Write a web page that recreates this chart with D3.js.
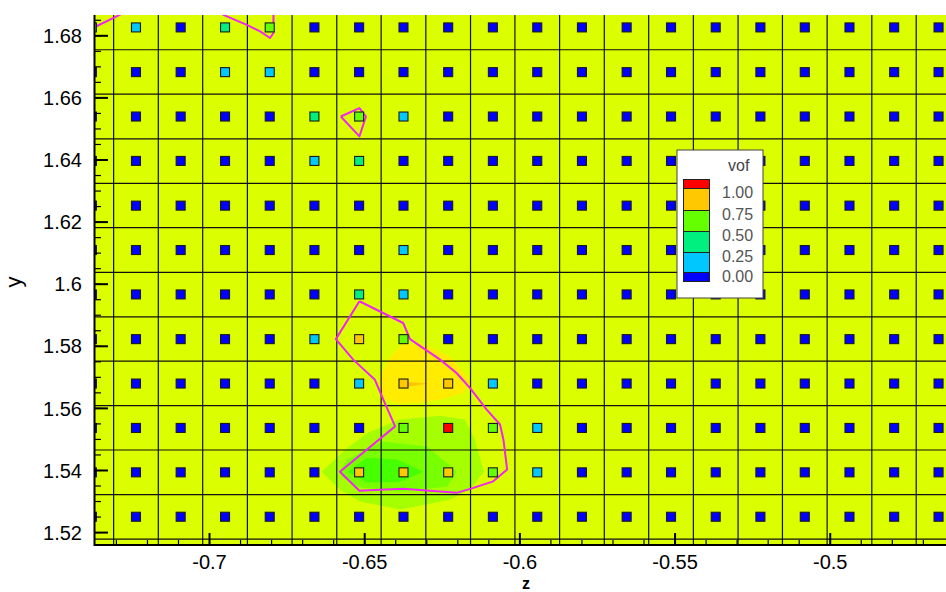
<html>
<head>
    <title>vof</title>
</head>
<script src='https://d3js.org/d3.v7.min.js'></script>
<style>
    body {margin:0; background:white;}
    text {font-family: 'Liberation Sans', Arial, sans-serif;}
</style>
<body>
<svg width=946 height=592></svg>

<script>
// cell centres, z across and y from top row down
var zCenters = [-0.7379, -0.7237, -0.7093, -0.6950, -0.6806, -0.6662, -0.6518, -0.6375, -0.6231, -0.6087,
                -0.5944, -0.5800, -0.5656, -0.5513, -0.5369, -0.5225, -0.5082, -0.4938, -0.4794, -0.4651];
var yCenters = [1.6827, 1.6683, 1.6540, 1.6397, 1.6253, 1.6110, 1.5967, 1.5823, 1.5680, 1.5537, 1.5394, 1.5251];
// mesh lines
var zEdges = [-0.7309, -0.7165, -0.7022, -0.6878, -0.6734, -0.6590, -0.6447, -0.6303, -0.6159, -0.6016,
              -0.5872, -0.5728, -0.5585, -0.5441, -0.5297, -0.5154, -0.5010, -0.4866, -0.4723];
var yEdges = [1.6755, 1.6612, 1.6468, 1.6325, 1.6182, 1.6038, 1.5895, 1.5752, 1.5609, 1.5466, 1.5322, 1.5179];

// vof per cell, rows top -> bottom
var vof = [
  [0.60, 0.15, 0, 0.35, 0.55, 0, 0, 0, 0, 0, 0, 0, 0, 0, 0, 0, 0, 0, 0, 0],
  [0, 0, 0, 0.20, 0.12, 0, 0, 0, 0, 0, 0, 0, 0, 0, 0, 0, 0, 0, 0, 0],
  [0, 0, 0, 0, 0, 0.30, 0.55, 0.10, 0, 0, 0, 0, 0, 0, 0, 0, 0, 0, 0, 0],
  [0, 0, 0, 0, 0, 0.15, 0.30, 0, 0, 0, 0, 0, 0, 0, 0, 0, 0, 0, 0, 0],
  [0, 0, 0, 0, 0, 0, 0, 0, 0, 0, 0, 0, 0, 0, 0, 0, 0, 0, 0, 0],
  [0, 0, 0, 0, 0, 0, 0, 0.10, 0, 0, 0, 0, 0, 0, 0, 0, 0, 0, 0, 0],
  [0, 0, 0, 0, 0, 0, 0.35, 0.20, 0, 0, 0, 0, 0, 0, 0, 0, 0, 0, 0, 0],
  [0, 0, 0, 0, 0, 0.05, 0.80, 0.60, 0, 0, 0, 0, 0, 0, 0, 0, 0, 0, 0, 0],
  [0, 0, 0, 0, 0, 0, 0.15, 0.90, 0.90, 0.20, 0, 0, 0, 0, 0, 0, 0, 0, 0, 0],
  [0, 0, 0, 0, 0, 0, 0, 0.70, 1.00, 0.55, 0.10, 0, 0, 0, 0, 0, 0, 0, 0, 0],
  [0, 0, 0, 0, 0, 0, 0.85, 0.95, 0.80, 0.60, 0.05, 0, 0, 0, 0, 0, 0, 0, 0, 0],
  [0, 0, 0, 0, 0, 0, 0, 0, 0, 0, 0, 0, 0, 0, 0, 0, 0, 0, 0, 0]
];

var levelLabels = ["1.00", "0.75", "0.50", "0.25", "0.00"];
var levelColors = ["#ff0000", "#ffc800", "#66ff00", "#00f080", "#00c8ff", "#0000ff"];

var xTicks = [-0.7, -0.65, -0.6, -0.55, -0.5];
var xTickLabels = ["-0.7", "-0.65", "-0.6", "-0.55", "-0.5"];
var yTicks = [1.52, 1.54, 1.56, 1.58, 1.6, 1.62, 1.64, 1.66, 1.68];
var yTickLabels = ["1.52", "1.54", "1.56", "1.58", "1.6", "1.62", "1.64", "1.66", "1.68"];

// flooded blobs [z, y]
var floodYellow = [[-0.6377,1.5808],[-0.6306,1.5805],[-0.6225,1.5766],[-0.6154,1.5683],[-0.6187,1.5647],[-0.6257,1.5628],
                   [-0.6322,1.5618],[-0.6393,1.5615],[-0.6444,1.5634],[-0.6457,1.5686],[-0.6425,1.5757]];
var floodOrange = [[-0.6370,1.5686],[-0.6296,1.5680],[-0.6360,1.5670]];
var floodGreen1 = [[-0.6638,1.5396],[-0.6563,1.5467],[-0.6489,1.5522],[-0.6386,1.5564],[-0.6257,1.5576],[-0.6177,1.5564],
                   [-0.6145,1.5499],[-0.6116,1.5396],[-0.6161,1.5338],[-0.6225,1.5306],[-0.6386,1.5274],[-0.6515,1.5300],[-0.6580,1.5338]];
var floodGreen2 = [[-0.6580,1.5396],[-0.6557,1.5435],[-0.6441,1.5493],[-0.6299,1.5477],[-0.6203,1.5396],[-0.6235,1.5348],
                   [-0.6386,1.5332],[-0.6515,1.5345],[-0.6570,1.5377]];
var floodGreen3 = [[-0.6554,1.5396],[-0.6493,1.5441],[-0.6396,1.5435],[-0.6312,1.5396],[-0.6386,1.5364],[-0.6493,1.5361]];

// vof = 0.5 iso lines
var contourBig = [[-0.6517,1.5945],[-0.6376,1.5875],[-0.6354,1.5823],[-0.6257,1.5757],[-0.6204,1.5714],[-0.6161,1.5666],
                  [-0.6107,1.5596],[-0.6064,1.5548],[-0.6053,1.5499],[-0.6041,1.5403],[-0.6086,1.5365],[-0.6150,1.5344],
                  [-0.6204,1.5328],[-0.6376,1.5341],[-0.6451,1.5338],[-0.6517,1.5335],[-0.6580,1.5396],[-0.6402,1.5542],
                  [-0.6440,1.5628],[-0.6467,1.5692],[-0.6537,1.5757],[-0.6593,1.5823],[-0.6517,1.5945]];
var contourSmall = [[-0.6577,1.6540],[-0.6517,1.6567],[-0.6496,1.6540],[-0.6517,1.6476],[-0.6577,1.6540]];
var contourTopLeft = [[-0.7385,1.6820],[-0.7366,1.6830],[-0.7288,1.6868],[-0.7272,1.6878]];
var contourTop = [[-0.6972,1.6900],[-0.6957,1.6868],[-0.6880,1.6835],[-0.6837,1.6814],[-0.6805,1.6793],[-0.6794,1.6809],[-0.6794,1.6900]];

var pLeft = 95, pRight = 946, pTop = 15, pBottom = 545;
var x = d3.scaleLinear().domain([-0.7369, -0.4627]).range([pLeft, pRight]);
var y = d3.scaleLinear().domain([1.5160, 1.6867]).range([pBottom, pTop]);
var color = d3.scaleThreshold().domain([0.000001, 0.25, 0.5, 0.75, 0.9999])
    .range(["#0000ff", "#00c8ff", "#00f080", "#66ff00", "#ffc800", "#ff0000"]);

var svg = d3.select('svg');
svg.append("clipPath").attr("id", "clip").append("rect")
    .attr("x", pLeft).attr("y", pTop).attr("width", pRight - pLeft).attr("height", pBottom - pTop);

var plot = svg.append("g").attr("clip-path", "url(#clip)");
plot.append("rect").attr("x", pLeft).attr("y", pTop).attr("width", pRight - pLeft).attr("height", pBottom - pTop)
    .style("fill", "#dcff00");

var poly = d3.line().x(function(d) {return x(d[0]);}).y(function(d) {return y(d[1]);});
plot.append("path").attr("d", poly(floodGreen1) + "Z").style("fill", "#a6ff00");
plot.append("path").attr("d", poly(floodGreen2) + "Z").style("fill", "#78ff00");
plot.append("path").attr("d", poly(floodGreen3) + "Z").style("fill", "#46ff00");
plot.append("path").attr("d", poly(floodYellow) + "Z").style("fill", "#ffec00");
plot.append("path").attr("d", poly(floodOrange) + "Z").style("fill", "#ffc400");

// mesh
plot.selectAll(".vline").data(zEdges).enter().append("line")
    .attr("x1", function(d) {return x(d);}).attr("x2", function(d) {return x(d);})
    .attr("y1", pTop).attr("y2", pBottom)
    .style("stroke", "#111").style("stroke-width", 1.2);
plot.selectAll(".hline").data(yEdges).enter().append("line")
    .attr("x1", pLeft).attr("x2", pRight)
    .attr("y1", function(d) {return y(d);}).attr("y2", function(d) {return y(d);})
    .style("stroke", "#111").style("stroke-width", 1.2);

// iso lines
[contourBig, contourSmall, contourTopLeft, contourTop].forEach(function(c) {
    plot.append("path").attr("d", poly(c))
        .style("fill", "none").style("stroke", "#f024f0").style("stroke-width", 2)
        .style("stroke-linejoin", "round");
});

// axes
var ax = svg.append("g");
ax.append("line").attr("x1", pLeft - 0.5).attr("x2", pLeft - 0.5).attr("y1", pTop).attr("y2", pBottom + 1)
    .style("stroke", "black").style("stroke-width", 2);
ax.append("line").attr("x1", pLeft - 1).attr("x2", pRight).attr("y1", pBottom).attr("y2", pBottom)
    .style("stroke", "black").style("stroke-width", 2);

// cell markers
var cells = [];
vof.forEach(function(row, r) {
    row.forEach(function(v, c) {
        cells.push({z: zCenters[c], y: yCenters[r], v: v});
    });
});
plot.selectAll(".cell").data(cells).enter().append("rect")
    .attr("x", function(d) {return x(d.z) - 4.5;})
    .attr("y", function(d) {return y(d.y) - 4.5;})
    .attr("width", 9).attr("height", 9)
    .style("fill", function(d) {return color(d.v);})
    .style("stroke", "#1a1a1a").style("stroke-width", 1.1);
plot.raise();
ax.raise();

var yMinor = d3.range(1.52, 1.6867, 0.005).map(function(d) {return +d.toFixed(3);});
var xMinor = d3.range(-0.73, -0.4627, 0.01).map(function(d) {return +d.toFixed(2);});

ax.selectAll(".ymin").data(yMinor).enter().append("line")
    .attr("x1", pLeft).attr("x2", pLeft + 6)
    .attr("y1", function(d) {return y(d);}).attr("y2", function(d) {return y(d);})
    .style("stroke", "black").style("stroke-width", 1.2);
ax.selectAll(".ymaj").data(yTicks).enter().append("line")
    .attr("x1", pLeft).attr("x2", pLeft + 13)
    .attr("y1", function(d) {return y(d);}).attr("y2", function(d) {return y(d);})
    .style("stroke", "black").style("stroke-width", 2);
ax.selectAll(".xmin").data(xMinor).enter().append("line")
    .attr("x1", function(d) {return x(d);}).attr("x2", function(d) {return x(d);})
    .attr("y1", pBottom).attr("y2", pBottom - 5)
    .style("stroke", "black").style("stroke-width", 1.2);
ax.selectAll(".xmaj").data(xTicks).enter().append("line")
    .attr("x1", function(d) {return x(d);}).attr("x2", function(d) {return x(d);})
    .attr("y1", pBottom).attr("y2", pBottom - 12)
    .style("stroke", "black").style("stroke-width", 2);

ax.selectAll(".ylab").data(yTicks).enter().append("text")
    .attr("x", 82).attr("y", function(d) {return y(d);}).attr("dy", "0.36em")
    .style("text-anchor", "end").style("font-size", "20px")
    .text(function(d, i) {return yTickLabels[i];});
ax.selectAll(".xlab").data(xTicks).enter().append("text")
    .attr("x", function(d) {return x(d);}).attr("y", 569)
    .style("text-anchor", "middle").style("font-size", "20px")
    .text(function(d, i) {return xTickLabels[i];});

svg.append("text").attr("x", 526).attr("y", 588.5).style("text-anchor", "middle")
    .style("font-size", "16px").style("font-weight", "bold").text("z");
svg.append("text").attr("transform", "translate(21,282) rotate(-90)").style("text-anchor", "middle")
    .style("font-size", "22px").text("y");

// legend
var lg = svg.append("g");
lg.append("rect").attr("x", 677).attr("y", 150).attr("width", 86).attr("height", 148)
    .style("fill", "white").style("stroke", "#444").style("stroke-width", 1);
lg.append("text").attr("x", 728).attr("y", 171).style("font-size", "16px").style("fill", "#444").text("vof");
var bandTop = [179, 188, 210, 231, 252, 272];
var bandH = [9, 22, 21, 21, 20, 9];
lg.selectAll(".band").data(levelColors).enter().append("rect")
    .attr("x", 683.5).attr("y", function(d, i) {return bandTop[i] + 0.5;})
    .attr("width", 26).attr("height", function(d, i) {return bandH[i];})
    .style("fill", function(d) {return d;})
    .style("stroke", "#222").style("stroke-width", 1);
lg.selectAll(".lvl").data(levelLabels).enter().append("text")
    .attr("x", 722).attr("y", function(d, i) {return bandTop[i + 1] + 10;})
    .style("font-size", "16px").style("fill", "#555")
    .text(function(d) {return d;});
</script>

</body>
</html>
